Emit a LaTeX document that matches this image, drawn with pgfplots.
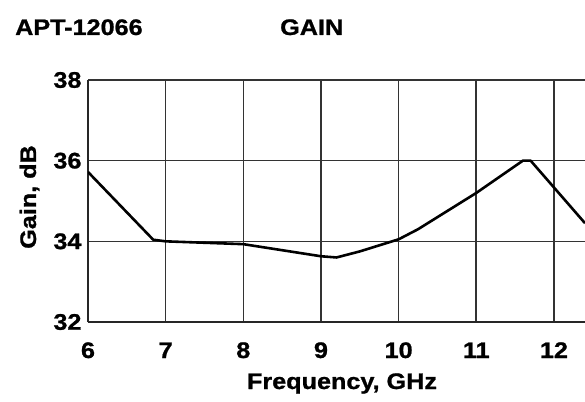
\documentclass[border=0pt]{standalone}
\usepackage{fontspec}
\setmainfont{Liberation Sans}[FakeStretch=1.12, BoldFeatures={FakeBold=1}]
\usepackage{pgfplots}
\pgfplotsset{compat=1.18}
\newcommand\lblfont{\fontsize{22.5}{26}\selectfont\bfseries}
\begin{document}
\begin{tikzpicture}
\begin{axis}[
  at={(0,0)}, anchor=south west,
  scale only axis, width=497pt, height=242pt,
  xmin=6, xmax=12.4, ymin=32, ymax=38,
  xtick={6,7,8,9,10,11,12}, ytick={32,34,36,38},
  axis x line=bottom, axis y line=left,
  axis line style={-, line width=2.2pt, black!85},
  major tick length=0pt,
  grid=major,
  major grid style={line width=1.6pt, black!80},
  /pgf/number format/assume math mode=true,
  tick label style={font=\lblfont},
  xticklabel style={anchor=base, yshift=-36pt},
  yticklabel style={anchor=east, xshift=-3pt},
  clip=true,
]
\addplot[black, line width=2.6pt, line join=round] coordinates {
 (6,35.72) (6.84,34.04) (7,34.0) (8,33.93) (8.5,33.78) (9,33.63) (9.2,33.6)
 (9.5,33.75) (10,34.05) (10.25,34.3) (11,35.2) (11.6,36.0) (11.7,36.0) (12.4,34.45)
};
\end{axis}
\node[anchor=base west, font=\lblfont, inner sep=0pt] at (-73pt,287pt) {APT-12066};
\node[anchor=base west, font=\lblfont, inner sep=0pt] at (192pt,287pt) {GAIN};
\node[anchor=base, rotate=90, font=\lblfont, inner sep=0pt] at (-52pt,125pt) {Gain, dB};
\node[anchor=base, font=\lblfont, inner sep=0pt] at (254pt,-67pt) {Frequency, GHz};
\pgfresetboundingbox
\path[use as bounding box] (-88pt,-79pt) rectangle (497pt,322pt);
\end{tikzpicture}
\end{document}
